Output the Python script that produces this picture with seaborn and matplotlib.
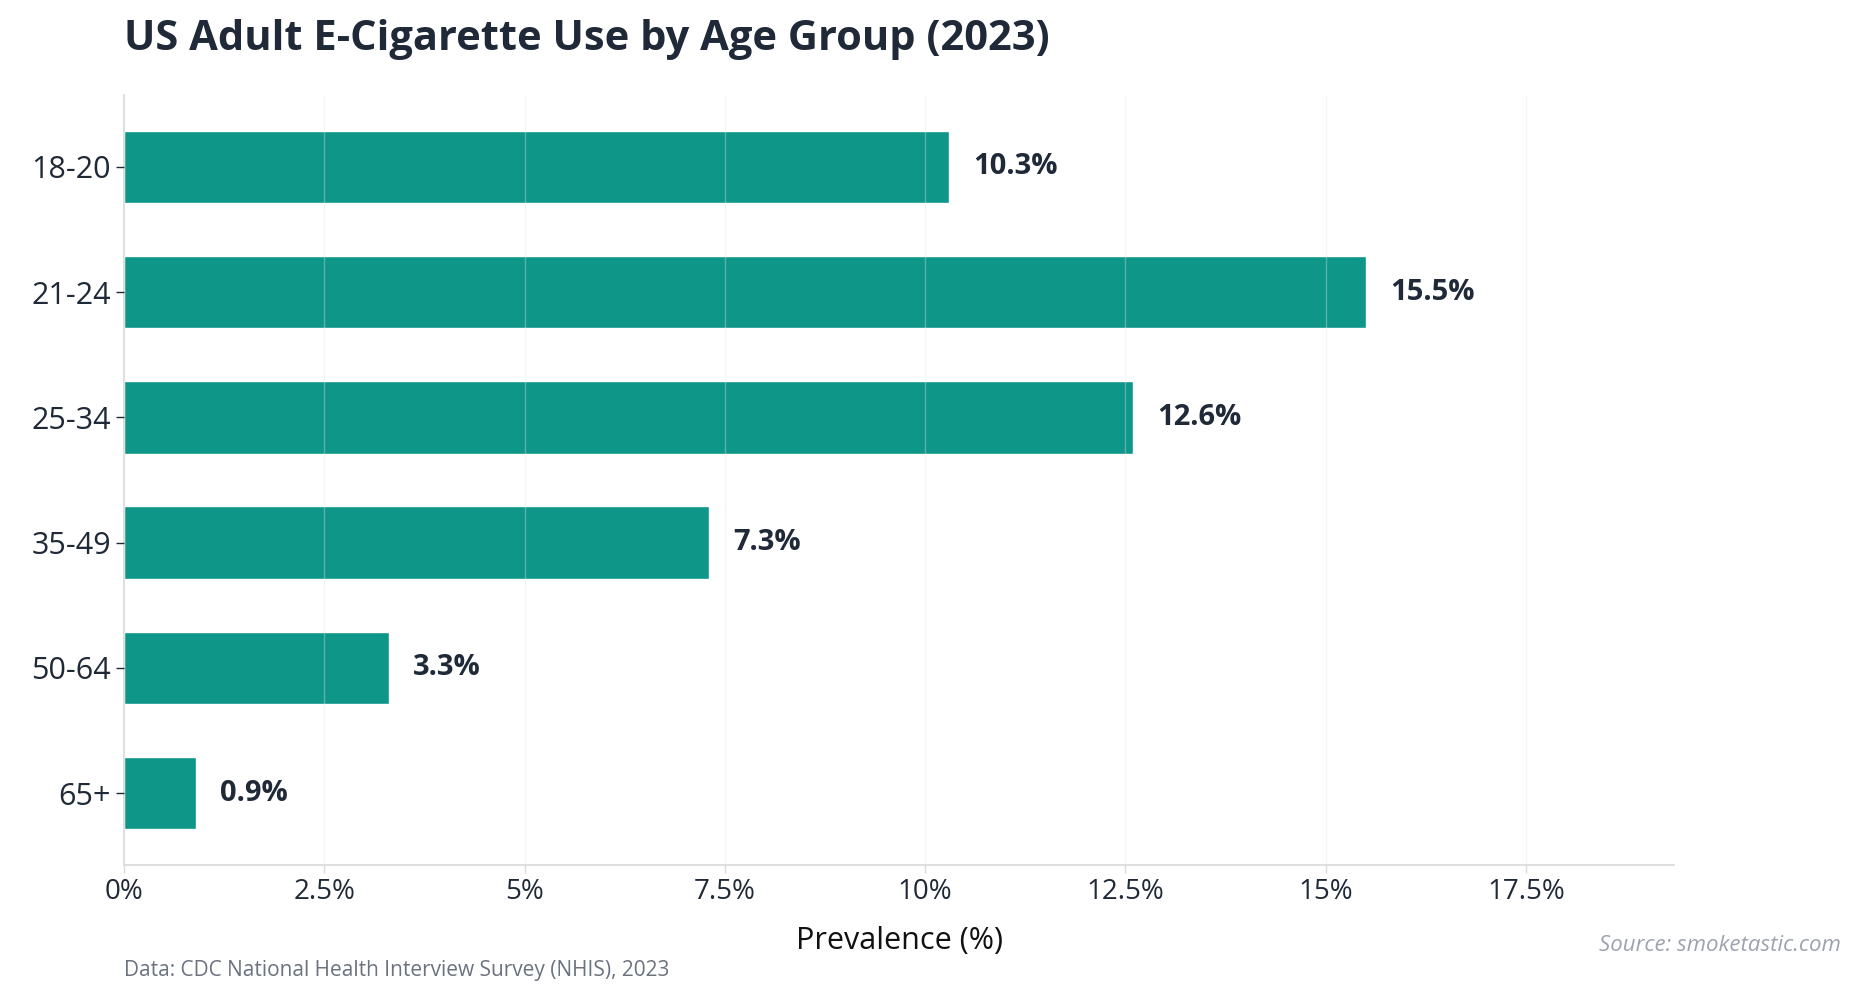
import matplotlib
matplotlib.use("Agg")
import matplotlib.pyplot as plt
import seaborn as sns
import pandas as pd
from matplotlib.ticker import FuncFormatter

ages = ["18-20", "21-24", "25-34", "35-49", "50-64", "65+"]
values = [10.3, 15.5, 12.6, 7.3, 3.3, 0.9]
ticks = [0, 2.5, 5, 7.5, 10, 12.5, 15, 17.5]

sns.set_theme(style="white")
plt.rcParams['font.family'] = ['Open Sans', 'DejaVu Sans']

df = pd.DataFrame({"age": ages, "value": values})
fig = plt.figure(figsize=(18.54, 9.99), dpi=100)
ax = fig.add_axes([0.067, 0.134, 0.836, 0.771])
sns.barplot(data=df, x="value", y="age", color="#0e9688", saturation=1, width=0.58, ax=ax, zorder=1)
ax.set_xlim(0, 19.35)
ax.set_ylim(5.575, -0.575)
ax.set_xticks(ticks)
ax.xaxis.set_major_formatter(FuncFormatter(lambda v, p: f"{v:g}%"))
ax.grid(axis="x", color="#e5e7eb", linewidth=1, alpha=0.35, zorder=2)
ax.set_axisbelow(False)
for s in ["top", "right"]:
    ax.spines[s].set_visible(False)
for s in ["left", "bottom"]:
    ax.spines[s].set_color("#d9d9d9")
ax.tick_params(axis="both", left=True, bottom=True, length=6, width=1)
ax.tick_params(axis="y", labelsize=22, color="#1f2937", labelcolor="#1f2937")
ax.tick_params(axis="x", labelsize=20, color="#d9d9d9", labelcolor="#1f2937")
ax.set_ylabel("")
ax.set_xlabel("Prevalence (%)", fontsize=22, color="#111111", labelpad=14)
for i, v in enumerate(values):
    ax.text(v + 0.3, i, f"{v}%", va="center", ha="left", fontsize=21, fontweight="bold", color="#1f2937")
fig.text(0.067, 0.94, "US Adult E-Cigarette Use by Age Group (2023)", fontsize=30, fontweight="bold", color="#1f2937", ha="left", va="bottom")
fig.text(0.067, 0.023, "Data: CDC National Health Interview Survey (NHIS), 2023", fontsize=15, color="#6b7280", ha="left")
fig.text(0.993, 0.048, "Source: smoketastic.com", fontsize=16, color="#9ca3af", style="italic", ha="right")
fig.savefig("out.png", dpi=100)
